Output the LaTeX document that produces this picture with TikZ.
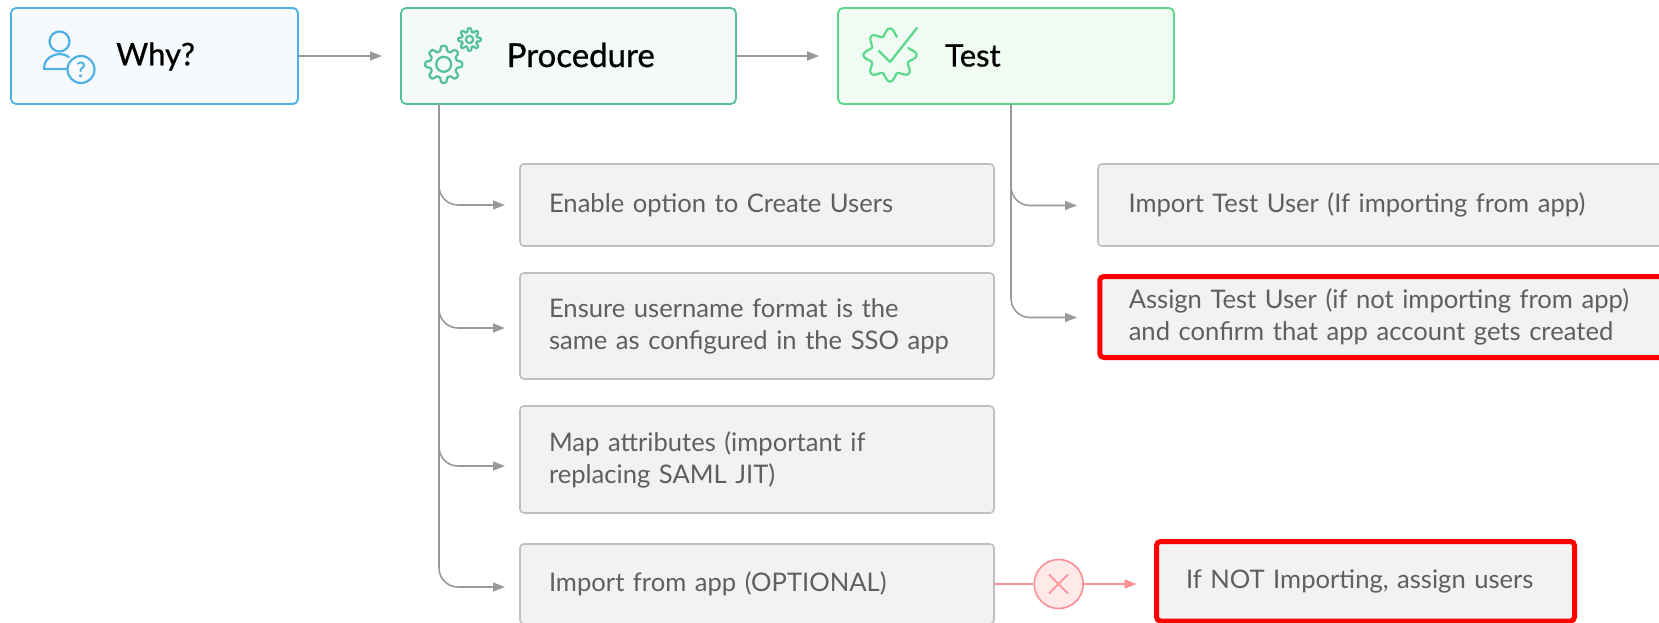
\documentclass[tikz,border=0pt]{standalone}
\usepackage{fontspec}
\setmainfont{Lato}
\newfontfamily\titlefont{Lato}[FakeBold=0.8]
\usetikzlibrary{arrows.meta,shapes.geometric}
\definecolor{whyc}{HTML}{4DB1E3}\definecolor{whyf}{HTML}{F6FAFD}
\definecolor{proc}{HTML}{53BF9D}\definecolor{prof}{HTML}{F3FAF8}
\definecolor{tstc}{HTML}{5BD98B}\definecolor{tstf}{HTML}{EFFBF3}
\definecolor{gryf}{HTML}{F2F2F2}\definecolor{gryc}{HTML}{BFBFBF}
\definecolor{txtc}{HTML}{5F5F5F}\definecolor{conc}{HTML}{999999}
\definecolor{pnkc}{HTML}{FF8F95}\definecolor{pnkf}{HTML}{FFE9E9}
\tikzset{
 x=1pt,y=-1pt,
 head/.style={draw=#1,line width=1.8pt,rounded corners=5pt,inner sep=0pt,minimum height=96pt},
 title/.style={anchor=west,inner sep=0pt,font=\titlefont\fontsize{31}{34}\selectfont,text=black},
 gbox/.style={draw=gryc,fill=gryf,line width=1.6pt,rounded corners=4pt,inner sep=0pt,align=left,text=txtc,
   font=\fontsize{25.6}{32}\selectfont},
 rbox/.style={gbox,draw=red,line width=5pt},
 conn/.style={draw=conc,line width=1.6pt,-{Triangle[length=12pt,width=9pt]}},
 pconn/.style={draw=pnkc,line width=1.5pt},
 icon/.style={line width=2.2pt,line join=round,line cap=round},
}
\begin{document}
\begin{tikzpicture}
\useasboundingbox (0,0) rectangle (1659,623);
% header boxes
\node[head=whyc,fill=whyf,minimum width=287pt] (why) at (154.5,56) {};
\node[head=proc,fill=prof,minimum width=335pt] (pro) at (568.5,56) {};
\node[head=tstc,fill=tstf,minimum width=336pt] (tst) at (1006,56) {};
\node[title] (whyt) at (116,56.5) {Why?};
\node[title,font=\titlefont\fontsize{33}{36}\selectfont] (prot) at (506.5,55) {Procedure};
\node[title] (tstt) at (945,55.5) {Test};
% gray boxes
\node[gbox,minimum width=474pt,minimum height=82pt,text width=416pt] (b1) at (757,205) {Enable option to Create Users};
\node[gbox,minimum width=474pt,minimum height=106pt,text width=416pt] (b2) at (757,326) {Ensure username format is the\\same as configured in the SSO app};
\node[gbox,minimum width=474pt,minimum height=107pt,text width=416pt] (b3) at (757,459.5) {Map attributes (important if\\replacing SAML JIT)};
\node[gbox,minimum width=474pt,minimum height=80pt,text width=416pt] (b4) at (757,584) {Import from app (OPTIONAL)};
\node[gbox,minimum width=602pt,minimum height=82pt,text width=541pt] (t1) at (1399,205) {Import Test User (If importing from app)};
\node[rbox,minimum width=600.5pt,minimum height=81pt,text width=542.5pt] (t2) at (1400,317) {Assign Test User (if not importing from app)\\and confirm that app account gets created};
\node[rbox,minimum width=418pt,minimum height=79.5pt,text width=359pt] (r2) at (1365.5,581.25) {If NOT Importing, assign users};
% connectors
\draw[conn,shorten >=18pt] (why.east) -- (pro.west);
\draw[conn,shorten >=18pt] (pro.east) -- (tst.west);
\coordinate (pv) at (439,104);
\coordinate (e1) at (505,205);\coordinate (e2) at (505,328);\coordinate (e3) at (505,466);\coordinate (e4) at (505,587);
\foreach \e in {e1,e2,e3,e4} \draw[conn,rounded corners=19pt] (pv) |- (\e);
\coordinate (tv) at (1011,104);
\coordinate (f1) at (1077,205.5);\coordinate (f2) at (1077,317.5);
\draw[conn,rounded corners=19pt] (tv) |- (f1);
\draw[conn,rounded corners=19pt] (tv) |- (f2);
% red connector
\node[draw=pnkc,fill=pnkf,line width=1.6pt,circle,minimum size=49pt,inner sep=0pt] (xx) at (1058.7,584) {};
\draw[pnkc,line width=1.5pt] (1049,574.5) -- (1068,593.5) (1049,593.5) -- (1068,574.5);
\coordinate (xe) at (1136.5,584);
\draw[pconn] (b4.east |- xx) -- (xx.west);
\draw[pconn,-{Triangle[length=12pt,width=9pt]}] (xx.east) -- (xe);
% why icon
\begin{scope}[icon]
\draw[whyc] (59.5,41.5) circle [radius=10];
\draw[whyc] (67,69) -- (44,69) .. controls (44,60) and (50,55) .. (59.5,54) .. controls (63,54) and (66,55) .. (69,57);
\draw[whyc] (81,69.5) circle [radius=13.5];
\node[inner sep=0pt,text=whyc,font=\titlefont\fontsize{21}{21}\selectfont] (qm) at (81,69.5) {?};
% gear icons
\draw[proc,smooth,samples=200,domain=0:360] plot ({443.7+(16+2.6*tanh(2*cos(8*\x)))*cos(\x)},{64.3+(16+2.6*tanh(2*cos(8*\x)))*sin(\x)}) -- cycle;
\draw[proc] (443.7,64.3) circle [radius=7.5];
\draw[proc,smooth,samples=200,domain=0:360] plot ({469.5+(9.5+1.8*tanh(2*cos(8*\x)))*cos(\x)},{39.5+(9.5+1.8*tanh(2*cos(8*\x)))*sin(\x)}) -- cycle;
\draw[proc] (469.5,39.5) circle [radius=3.7];
% test icon
\draw[tstc,smooth,samples=200,domain=-21:291] plot ({890+(23+3.5*cos(8*\x))*cos(\x)},{55+(23+3.5*cos(8*\x))*sin(\x)});
\draw[tstc] (879,51) -- (890,62) -- (917,28);
\end{scope}
\end{tikzpicture}
\end{document}
